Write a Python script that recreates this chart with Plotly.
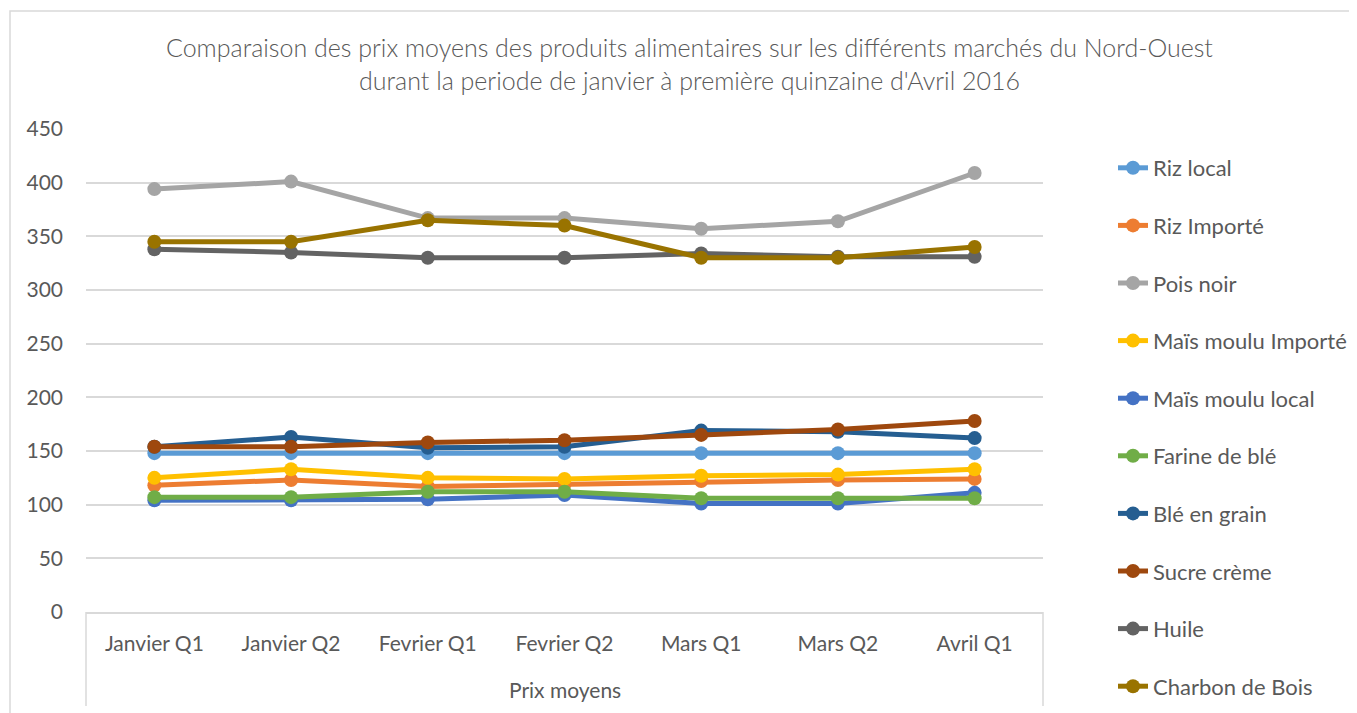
import plotly.graph_objects as go

categories = ["Janvier Q1", "Janvier Q2", "Fevrier Q1", "Fevrier Q2", "Mars Q1", "Mars Q2", "Avril Q1"]

riz_local = [148, 148, 148, 148, 148, 148, 148]
riz_importe = [118, 123, 117, 119, 122, 123, 124]
pois_noir = [394, 401, 367, 367, 357, 364, 409]
mais_importe = [125, 133, 125, 124, 127, 128, 133]
mais_local = [104, 104, 105, 109, 101, 101, 111]
farine_ble = [107, 107, 112, 112, 106, 106, 106]
ble_grain = [154, 163, 153, 154, 169, 168, 162]
sucre_creme = [154, 154, 158, 160, 165, 170, 178]
huile = [338, 335, 330, 330, 334, 331, 331]
charbon_bois = [345, 345, 365, 360, 330, 330, 340]

series_names = ["Riz local", "Riz Importé", "Pois noir", "Maïs moulu Importé", "Maïs moulu local",
                "Farine de blé", "Blé en grain", "Sucre crème", "Huile", "Charbon de Bois"]
series_values = [riz_local, riz_importe, pois_noir, mais_importe, mais_local,
                 farine_ble, ble_grain, sucre_creme, huile, charbon_bois]
colors = ["#5B9BD5", "#ED7D31", "#A5A5A5", "#FFC000", "#4472C4",
          "#70AD47", "#255E91", "#9E480E", "#636363", "#997300"]

# page is rendered with an 8px body margin
OFF = 8
W, H = 1357 - OFF, 713 - OFF
# plot area in page pixels
PL, PR, PT, PB = 86, 1043, 129, 612
L, R, T, B = PL - OFF, PR - OFF, PT - OFF, PB - OFF
FONT = "Lato"
TXT = "#595959"
GRID = "#D9D9D9"


def px_x(x):  # page px -> paper
    return (x - PL) / (PR - PL)


def px_y(y):
    return (PB - y) / (PB - PT)


fig = go.Figure()
for i, (name, vals, c) in enumerate(zip(series_names, series_values, colors)):
    fig.add_trace(go.Scatter(
        x=categories, y=vals, name=name, mode="lines+markers",
        line=dict(color=c, width=5),
        marker=dict(color=c, size=14),
        legendgroup=f"g{i}",
    ))

fig.update_layout(
    width=W, height=H,
    margin=dict(l=L, r=W - R, t=T, b=H - B, autoexpand=False),
    paper_bgcolor="white", plot_bgcolor="white",
    font=dict(family=FONT, color=TXT, size=21),
    showlegend=True,
    legend=dict(
        x=px_x(1113), xanchor="left", y=px_y(147), yanchor="top",
        font=dict(family=FONT, size=22, color=TXT),
        tracegroupgap=26, bgcolor="rgba(0,0,0,0)", maxheight=700,
    ),
    xaxis=dict(
        type="category", showgrid=False, showline=True, linecolor=GRID, linewidth=1.5,
        ticks="", ticklabelstandoff=12, tickfont=dict(size=21, family=FONT, color=TXT),
        range=[-0.5, 6.5], fixedrange=True, automargin=False,
    ),
    yaxis=dict(
        range=[0, 450], dtick=50, showgrid=True, gridcolor=GRID, gridwidth=1.5,
        zeroline=False, showline=False, ticks="", ticklabelstandoff=22,
        tickfont=dict(size=21, family=FONT, color=TXT), automargin=False,
    ),
)

# title
title_font = dict(size=25, family=FONT, color=TXT, weight=300)
fig.add_annotation(text="Comparaison des prix moyens des produits alimentaires sur les différents marchés du Nord-Ouest",
                   xref="paper", yref="paper", x=px_x(689), y=px_y(47), showarrow=False,
                   font=title_font, xanchor="center", yanchor="middle")
fig.add_annotation(text="durant la periode de janvier à première quinzaine d'Avril 2016",
                   xref="paper", yref="paper", x=px_x(689), y=px_y(80), showarrow=False,
                   font=title_font, xanchor="center", yanchor="middle")
# group label
fig.add_annotation(text="Prix moyens", xref="paper", yref="paper", x=0.5, y=px_y(689),
                   showarrow=False, font=dict(size=21, family=FONT, color=TXT),
                   xanchor="center", yanchor="middle")

# axis box lines
for xv in (PL, PR):
    fig.add_shape(type="line", xref="paper", yref="paper", x0=px_x(xv), x1=px_x(xv),
                  y0=px_y(PB), y1=px_y(706), line=dict(color=GRID, width=1.5))
# outer chart border
fig.add_shape(type="rect", xref="paper", yref="paper", x0=px_x(10), x1=px_x(1400),
              y0=px_y(760), y1=px_y(11), line=dict(color=GRID, width=1.5), layer="below")

fig.write_html("out.html")
